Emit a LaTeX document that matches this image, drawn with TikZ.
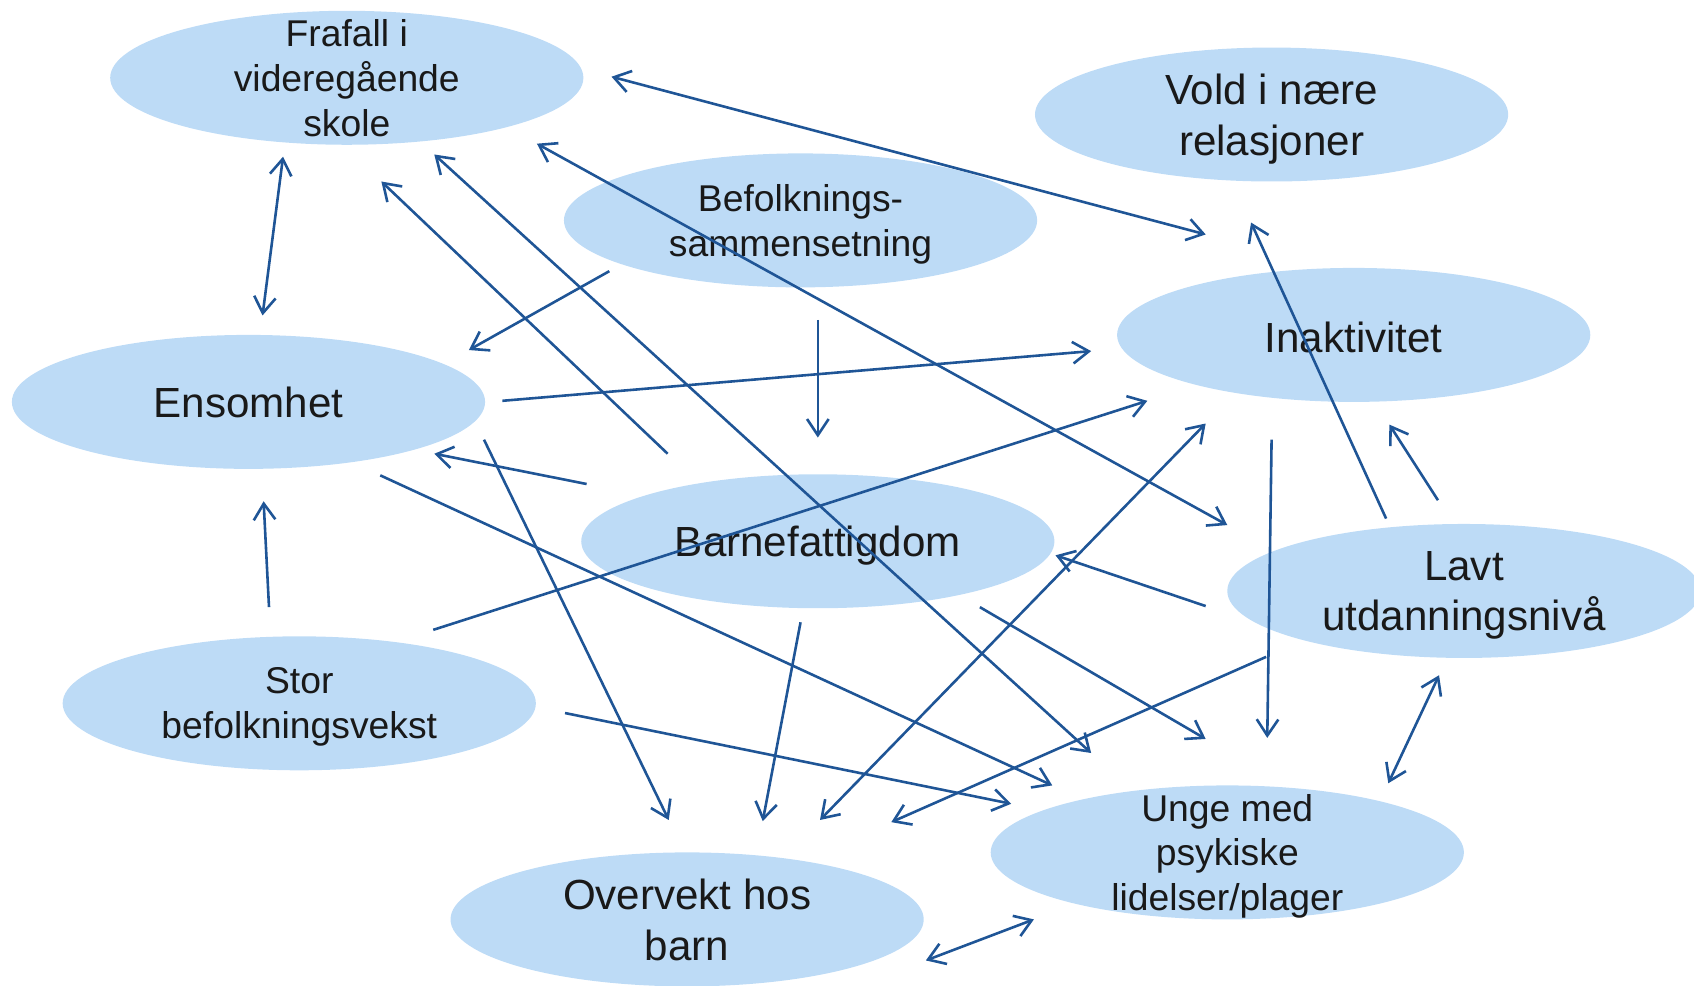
\documentclass[tikz,border=0pt]{standalone}
\usepackage{fontspec}
\setmainfont{Liberation Sans}
\usetikzlibrary{shapes.geometric,arrows.meta,calc}
\definecolor{bubblefill}{RGB}{189,219,246}
\definecolor{linkblue}{RGB}{31,85,150}

\begin{document}
\begin{tikzpicture}[
    x=1pt, y=-1pt,
    bubble/.style={ellipse, fill=bubblefill, minimum width=438pt, minimum height=124pt, inner sep=0pt},
    big/.style={font=\fontsize{39}{47}\selectfont, align=center, text=black!90, inner sep=0pt, text depth=0pt},
    small/.style={font=\fontsize{34.5}{41.5}\selectfont, align=center, text=black!90, inner sep=0pt, text depth=0pt},
    link/.style={-{Straight Barb[length=15pt,width=20pt]}, draw=linkblue, line width=2.4pt},
    twoway/.style={link, {Straight Barb[length=15pt,width=20pt]}-{Straight Barb[length=15pt,width=20pt]}}
]
    \useasboundingbox (0,0) rectangle (1568,912);
    \clip (0,0) rectangle (1568,912);

    % Factors
    \node[bubble, label={[small]center:{Frafall i\\videregående\\skole}}] (frafall) at (321,72) {};
    \node[bubble, label={[big]center:{Vold i nære\\relasjoner}}] (vold) at (1177,106) {};
    \node[bubble, label={[small]center:{Befolknings-\\sammensetning}}] (befolkning) at (741,204) {};
    \node[bubble, label={[big, yshift=-2pt]center:{Inaktivitet}}] (inaktivitet) at (1253,310) {};
    \node[bubble, label={[big]center:{Ensomhet}}] (ensomhet) at (230,372) {};
    \node[bubble, label={[big]center:{Barnefattigdom}}] (fattigdom) at (757,501) {};
    \node[bubble, label={[big]center:{Lavt\\utdanningsnivå}}] (utdanning) at (1355,547) {};
    \node[bubble, label={[small]center:{Stor\\befolkningsvekst}}] (vekst) at (277,651) {};
    \node[bubble, label={[big]center:{Overvekt hos\\barn}}] (overvekt) at (636,851) {};
    \node[bubble, label={[small]center:{Unge med\\psykiske\\lidelser/plager}}] (psykisk) at (1136,789) {};

    % Two-way links
    \draw[twoway] ($(frafall)+(-59,73)$) -- ($(ensomhet)+(13,-80)$);
    \draw[twoway] ($(frafall)+(245,-1)$) -- ($(inaktivitet)+(-137,-93)$);
    \draw[twoway] ($(frafall)+(81,71)$) -- ($(psykisk)+(-126,-92)$);
    \draw[twoway] ($(frafall)+(176,61)$) -- ($(utdanning)+(-219,-61)$);
    \draw[twoway] ($(overvekt)+(123,-92)$) -- ($(inaktivitet)+(-137,82)$);
    \draw[twoway] ($(psykisk)+(149,-64)$) -- ($(utdanning)+(-23,78)$);
    \draw[twoway] ($(overvekt)+(221,38)$) -- ($(psykisk)+(-179,62)$);

    % One-way links
    \draw[link] ($(fattigdom)+(-139,-81)$) -- ($(frafall)+(32,96)$);
    \draw[link] ($(befolkning)+(-177,47)$) -- ($(ensomhet)+(204,-48)$);
    \draw[link] ($(befolkning)+(16,92)$) -- ($(fattigdom)+(0,-96)$);
    \draw[link] ($(ensomhet)+(235,-1)$) -- ($(inaktivitet)+(-243,15)$);
    \draw[link] ($(fattigdom)+(-214,-53)$) -- ($(ensomhet)+(172,48)$);
    \draw[link] ($(ensomhet)+(218,35)$) -- ($(overvekt)+(-17,-92)$);
    \draw[link] ($(ensomhet)+(122,68)$) -- ($(psykisk)+(-162,-62)$);
    \draw[link] ($(vekst)+(-28,-89)$) -- ($(ensomhet)+(14,92)$);
    \draw[link] ($(vekst)+(124,-68)$) -- ($(inaktivitet)+(-191,61)$);
    \draw[link] ($(vekst)+(246,9)$) -- ($(psykisk)+(-200,-45)$);
    \draw[link] ($(fattigdom)+(-16,75)$) -- ($(overvekt)+(70,-91)$);
    \draw[link] ($(utdanning)+(-183,61)$) -- ($(overvekt)+(189,-90)$);
    \draw[link] ($(fattigdom)+(150,61)$) -- ($(psykisk)+(-20,-105)$);
    \draw[link] ($(inaktivitet)+(-76,97)$) -- ($(psykisk)+(37,-106)$);
    \draw[link] ($(utdanning)+(-239,14)$) -- ($(fattigdom)+(220,13)$);
    \draw[link] ($(utdanning)+(-24,-84)$) -- ($(inaktivitet)+(33,83)$);
    \draw[link] ($(utdanning)+(-72,-67)$) -- ($(vold)+(-19,100)$);
\end{tikzpicture}
\end{document}
